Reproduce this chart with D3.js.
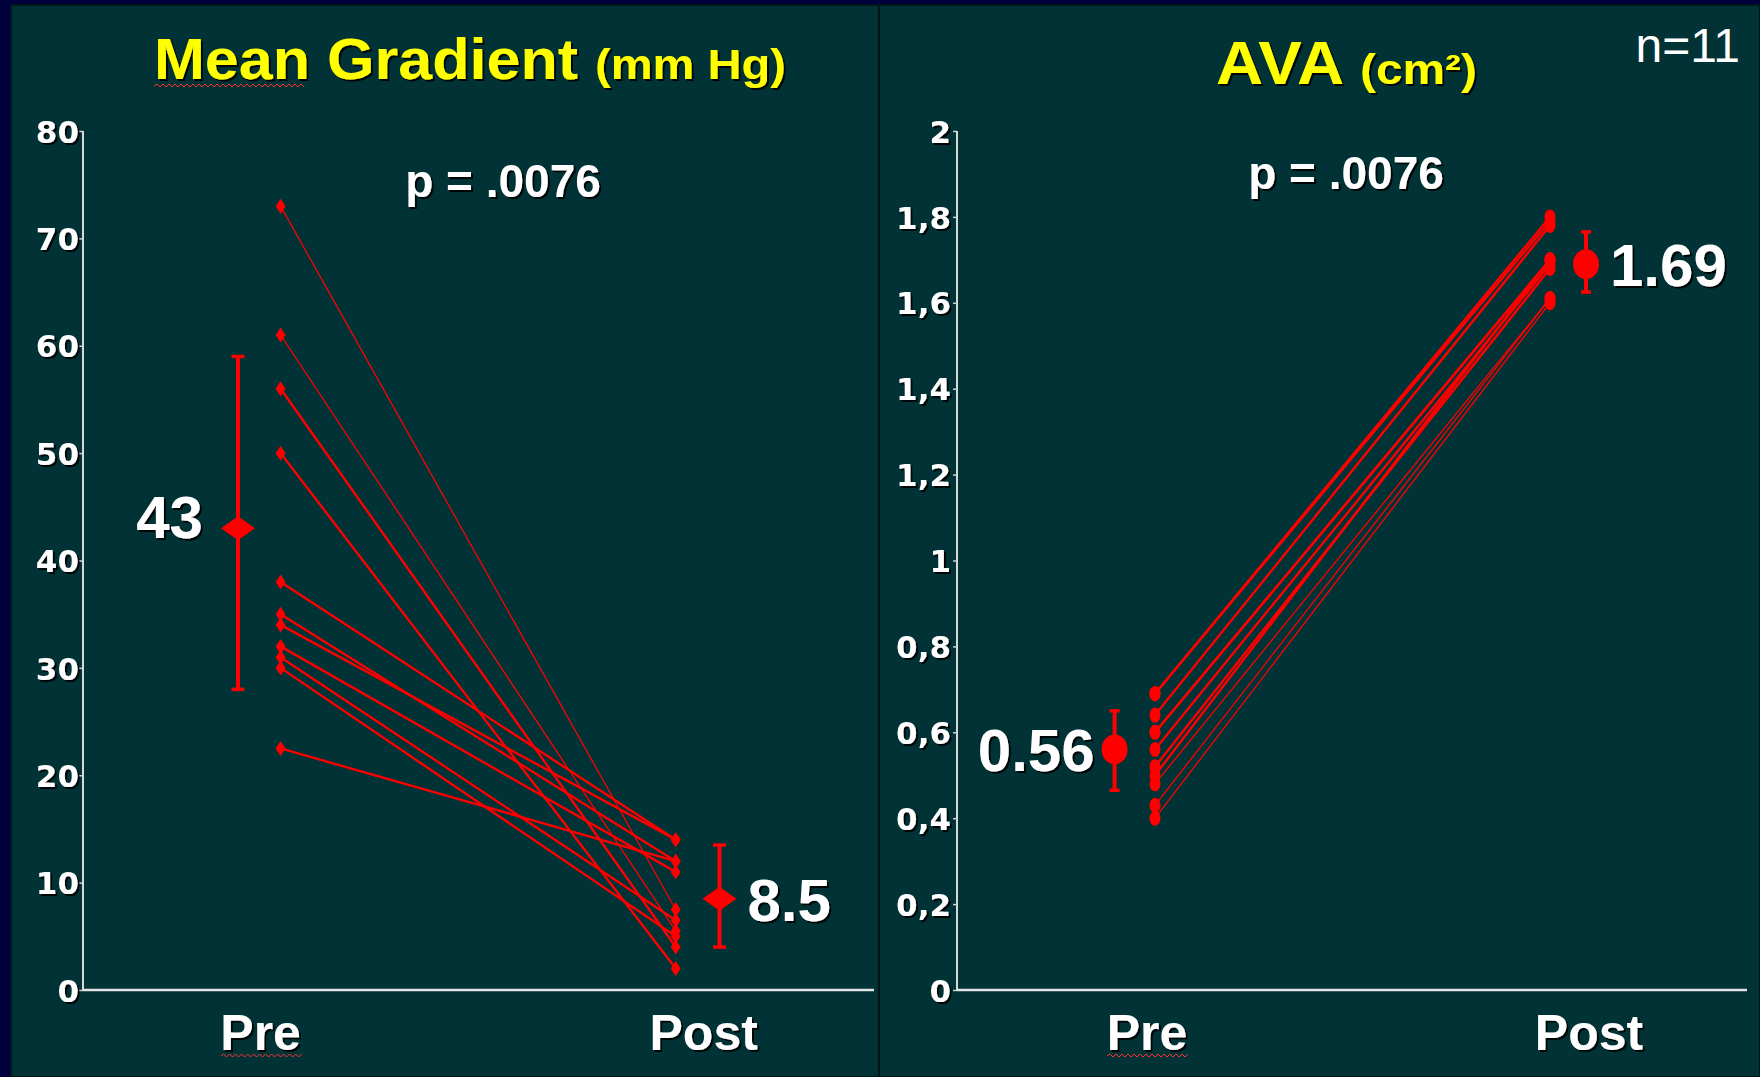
<!DOCTYPE html>
<html>
<head>
<meta charset="utf-8">
<script src="https://cdn.jsdelivr.net/npm/d3@7"></script>
<style>
  html, body { margin: 0; padding: 0; background: #00003c; }
  svg { display: block; font-family: "Liberation Sans", Arial, sans-serif; }
</style>
</head>
<body>
<div id="chart"></div>
<script>
// categories
const phases = ["Pre", "Post"];

// Mean gradient (mm Hg), one value per patient
const gradPre  = [73, 61, 56, 50, 38, 35, 34, 32, 31, 30, 22.5];
const gradPost = [7.5, 5.5, 4, 2, 14, 12, 14, 11, 6.5, 5, 12];
const gradMean = [43, 8.5];
const gradLo   = [28, 4];
const gradHi   = [59, 13.5];
const gradMeanLabels = ["43", "8.5"];
const gradTicks = [0, 10, 20, 30, 40, 50, 60, 70, 80];

// AVA (cm2), one value per patient
const avaPre  = [0.69, 0.69, 0.64, 0.60, 0.60, 0.56, 0.52, 0.50, 0.48, 0.43, 0.40];
const avaPost = [1.80, 1.79, 1.78, 1.70, 1.70, 1.69, 1.68, 1.70, 1.61, 1.61, 1.60];
const avaMean = [0.56, 1.69];
const avaLo   = [0.465, 1.625];
const avaHi   = [0.65, 1.765];
const avaMeanLabels = ["0.56", "1.69"];
const avaTicks = [0, 0.2, 0.4, 0.6, 0.8, 1, 1.2, 1.4, 1.6, 1.8, 2];
const avaTickLabels = ["0", "0,2", "0,4", "0,6", "0,8", "1", "1,2", "1,4", "1,6", "1,8", "2"];

const W = 1760, H = 1077;
const red = "#ff0000", white = "#ffffff", yellow = "#ffff00";

const svg = d3.select("#chart").append("svg")
  .attr("width", W).attr("height", H);

// text shadow
const defs = svg.append("defs");
defs.append("filter").attr("id", "shadow")
  .attr("x", "-10%").attr("y", "-10%").attr("width", "130%").attr("height", "130%")
  .append("feDropShadow")
  .attr("dx", 2).attr("dy", 2).attr("stdDeviation", 0)
  .attr("flood-color", "#000000").attr("flood-opacity", 0.9);

// slide background
svg.append("rect").attr("width", W).attr("height", H).attr("fill", "#00003c");
svg.append("rect").attr("x", 11).attr("y", 5).attr("width", W - 11).attr("height", H - 5)
  .attr("fill", "#003236").attr("stroke", "#001818").attr("stroke-width", 2);
svg.append("line").attr("x1", 879).attr("x2", 879).attr("y1", 6).attr("y2", H)
  .attr("stroke", "#001414").attr("stroke-width", 2);

// squiggly spell-check underline
function squiggle(x0, x1, y) {
  let d = `M${x0},${y}`;
  for (let x = x0, up = true; x < x1; x += 3, up = !up) d += `L${x + 3},${up ? y - 2 : y + 1}`;
  svg.append("path").attr("d", d).attr("fill", "none")
    .attr("stroke", "#ff3030").attr("stroke-width", 1);
}

function panel(cfg) {
  const y = d3.scaleLinear().domain(cfg.yDomain).range([990, 131]);
  const x = d3.scaleLinear().domain([0, 1]).range(cfg.xRange);
  const g = svg.append("g");

  // y axis
  const yAxis = g.append("g")
    .attr("transform", `translate(${cfg.axisX},0)`)
    .call(d3.axisLeft(y).tickValues(cfg.ticks).tickSize(4).tickPadding(cfg.tickPad)
      .tickFormat((d, i) => cfg.tickLabels[i]));
  yAxis.select(".domain").remove();
  yAxis.selectAll(".tick line").attr("stroke", "#d0d0d0").attr("stroke-width", 1.5);
  yAxis.selectAll(".tick text")
    .attr("fill", white).attr("font-size", 31).attr("font-weight", "bold")
    .attr("font-family", "'DejaVu Sans', sans-serif")
    .attr("dy", "0.36em").attr("filter", "url(#shadow)");

  // axis lines
  g.append("line").attr("x1", cfg.axisX).attr("x2", cfg.axisX)
    .attr("y1", y(cfg.yDomain[1])).attr("y2", y(0))
    .attr("stroke", "#d8d8d8").attr("stroke-width", 2);
  g.append("line").attr("x1", cfg.axisX).attr("x2", cfg.axisEnd)
    .attr("y1", y(0)).attr("y2", y(0))
    .attr("stroke", "#e4e4e4").attr("stroke-width", 2.5);

  // category labels
  g.selectAll(".cat").data(phases).join("text")
    .attr("class", "cat")
    .attr("x", (d, i) => x(i) + cfg.catOffset[i]).attr("y", 1050)
    .attr("text-anchor", "middle")
    .attr("fill", white).attr("font-size", 50).attr("font-weight", "bold")
    .attr("filter", "url(#shadow)")
    .text(d => d);

  // patient lines
  const pairs = cfg.pre.map((v, i) => ({pre: v, post: cfg.post[i], i}));
  g.selectAll(".pair").data(pairs).join("line")
    .attr("x1", x(0)).attr("x2", x(1))
    .attr("y1", d => y(d.pre)).attr("y2", d => y(d.post))
    .attr("stroke", red)
    .attr("stroke-width", d => cfg.thin.includes(d.i) ? 1.3 : 2.4);

  // patient markers
  const pts = pairs.flatMap(d => [{p: 0, v: d.pre}, {p: 1, v: d.post}]);
  if (cfg.marker === "diamond") {
    g.selectAll(".pt").data(pts).join("path")
      .attr("d", d => {
        const cx = x(d.p), cy = y(d.v);
        return `M${cx},${cy - 7.5}L${cx + 5},${cy}L${cx},${cy + 7.5}L${cx - 5},${cy}Z`;
      })
      .attr("fill", red);
  } else {
    g.selectAll(".pt").data(pts).join("ellipse")
      .attr("cx", d => x(d.p)).attr("cy", d => y(d.v))
      .attr("rx", 5.5).attr("ry", 7.5).attr("fill", red);
  }

  // mean with error bar
  phases.forEach((p, i) => {
    const mx = x(i) + cfg.meanOffset[i];
    g.append("line").attr("x1", mx).attr("x2", mx)
      .attr("y1", y(cfg.hi[i])).attr("y2", y(cfg.lo[i]))
      .attr("stroke", red).attr("stroke-width", 4);
    [cfg.hi[i], cfg.lo[i]].forEach(v => {
      g.append("line").attr("x1", mx - cfg.cap).attr("x2", mx + cfg.cap)
        .attr("y1", y(v)).attr("y2", y(v))
        .attr("stroke", red).attr("stroke-width", 3.5);
    });
    const my = y(cfg.mean[i]);
    if (cfg.marker === "diamond") {
      g.append("path")
        .attr("d", `M${mx},${my - 12}L${mx + 17},${my}L${mx},${my + 12}L${mx - 17},${my}Z`)
        .attr("fill", red);
    } else {
      g.append("ellipse").attr("cx", mx).attr("cy", my)
        .attr("rx", 13).attr("ry", 15).attr("fill", red);
    }
    g.append("text")
      .attr("x", mx + (i === 0 ? -cfg.labelGap[0] : cfg.labelGap[1]))
      .attr("y", my + 22 + cfg.labelDy[i])
      .attr("text-anchor", i === 0 ? "end" : "start")
      .attr("fill", white).attr("font-size", 60).attr("font-weight", "bold")
      .attr("filter", "url(#shadow)")
      .text(cfg.meanLabels[i]);
  });

  // p value
  g.append("text").attr("x", cfg.pX).attr("y", cfg.pY)
    .attr("text-anchor", "middle")
    .attr("fill", white).attr("font-size", 46).attr("font-weight", "bold")
    .attr("filter", "url(#shadow)")
    .text("p = .0076");

  return {x, y};
}

const left = panel({
  yDomain: [0, 80], ticks: gradTicks, tickLabels: gradTicks.map(String),
  axisX: 83, axisEnd: 874, xRange: [280.6, 675.7], tickPad: 0,
  pre: gradPre, post: gradPost, mean: gradMean, lo: gradLo, hi: gradHi,
  meanLabels: gradMeanLabels, marker: "diamond",
  meanOffset: [-42.6, 43.8], catOffset: [-20, 28], labelGap: [35, 28], labelDy: [-12, 0],
  cap: 6.5, thin: [0, 1], pX: 503, pY: 197
});

const right = panel({
  yDomain: [0, 2], ticks: avaTicks, tickLabels: avaTickLabels,
  axisX: 957, axisEnd: 1747, xRange: [1155, 1550], tickPad: 2,
  pre: avaPre, post: avaPost, mean: avaMean, lo: avaLo, hi: avaHi,
  meanLabels: avaMeanLabels, marker: "ellipse",
  meanOffset: [-40.4, 36], catOffset: [-8, 39], labelGap: [20, 24], labelDy: [0, 0],
  cap: 5, thin: [8, 9, 10], pX: 1346, pY: 189
});

// titles
const t1 = svg.append("text").attr("y", 79).attr("fill", yellow)
  .attr("font-weight", "bold").attr("filter", "url(#shadow)");
t1.append("tspan").attr("x", 154).attr("font-size", 58)
  .attr("textLength", 424).attr("lengthAdjust", "spacingAndGlyphs").text("Mean Gradient");
t1.append("tspan").attr("x", 595).attr("font-size", 42)
  .attr("textLength", 191).attr("lengthAdjust", "spacingAndGlyphs").text("(mm Hg)");
squiggle(154, 302, 86);

const t2 = svg.append("text").attr("y", 84).attr("fill", yellow)
  .attr("font-weight", "bold").attr("filter", "url(#shadow)");
t2.append("tspan").attr("x", 1216).attr("font-size", 62)
  .attr("textLength", 128).attr("lengthAdjust", "spacingAndGlyphs").text("AVA");
t2.append("tspan").attr("x", 1360).attr("font-size", 42)
  .attr("textLength", 117).attr("lengthAdjust", "spacingAndGlyphs").text("(cm²)");

svg.append("text").attr("x", 1740).attr("y", 62).attr("text-anchor", "end")
  .attr("fill", white).attr("font-size", 48).text("n=11");

// spell-check marks under the "Pre" labels
squiggle(left.x(0) - 20 - 40, left.x(0) - 20 + 40, 1056);
squiggle(right.x(0) - 8 - 40, right.x(0) - 8 + 40, 1056);
</script>
</body>
</html>
